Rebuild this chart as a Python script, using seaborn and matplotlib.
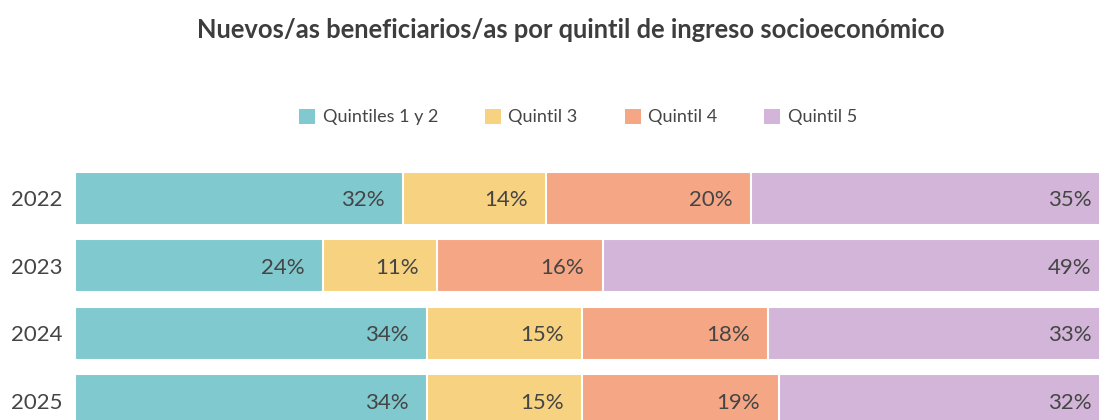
import numpy as np
import pandas as pd
import seaborn as sns
import matplotlib.pyplot as plt
from matplotlib.patches import Patch

# Data (percent of new beneficiaries)
years = ["2022", "2023", "2024", "2025"]
quintiles = ["Quintiles 1 y 2", "Quintil 3", "Quintil 4", "Quintil 5"]
q12 = [32, 24, 34, 34]
q3 = [14, 11, 15, 15]
q4 = [20, 16, 18, 19]
q5 = [35, 49, 33, 32]
colors = ["#7fc9cf", "#f7d281", "#f5a684", "#d2b5d8"]

sns.set_theme(style="white")
plt.rcParams["font.family"] = ["Lato", "DejaVu Sans"]

df = pd.DataFrame({"year": years, quintiles[0]: q12, quintiles[1]: q3,
                   quintiles[2]: q4, quintiles[3]: q5})
vals = df[quintiles].to_numpy(dtype=float)
# 100% stacked: each row scaled to its total
shares = vals / vals.sum(axis=1, keepdims=True) * 100
cum = np.cumsum(shares, axis=1)

fig = plt.figure(figsize=(10.99, 4.20), dpi=100)
# the bars run a little past the right edge of the picture
ax = fig.add_axes([0.0682, -0.034, 0.9418, 0.6417])

# draw from the longest cumulative bar to the shortest so the stacks show
for i in reversed(range(len(quintiles))):
    sns.barplot(x=cum[:, i], y=df["year"], orient="h", color=colors[i],
                width=0.785, edgecolor="white", linewidth=1.5, ax=ax,
                saturation=1)

txt = "#454545"
for r in range(len(years)):
    for i in range(len(quintiles)):
        ax.text(cum[r, i] - 1.8, r + 0.03, f"{int(vals[r, i])}%",
                ha="right", va="center", fontsize=16, color=txt)

ax.set_xlim(0, 100)
ax.set_ylim(3.5, -0.5)
ax.set_xlabel("")
ax.set_ylabel("")
ax.set_xticks([])
ax.tick_params(axis="y", length=0, pad=9, labelsize=16, labelcolor=txt)
sns.despine(ax=ax, left=True, bottom=True, top=True, right=True)

fig.text(571 / 1099, 1 - 30 / 420,
         "Nuevos/as beneficiarios/as por quintil de ingreso socioeconómico",
         ha="center", va="center", fontsize=18.4, fontweight="bold", color="#3d3d3d")

handles = [Patch(facecolor=c, edgecolor="none") for c in colors]
fig.legend(handles, quintiles, loc="center", ncol=4,
           bbox_to_anchor=(578 / 1099, 1 - 117 / 420), frameon=False,
           fontsize=13, handlelength=0.9, handleheight=0.9,
           handletextpad=0.4, columnspacing=2.6, labelcolor=txt)

fig.savefig("out.png", dpi=100)
